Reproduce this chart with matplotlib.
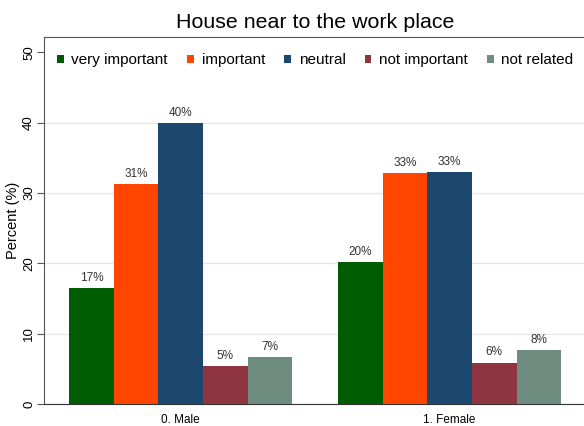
import matplotlib.pyplot as plt
import numpy as np

plt.rcParams['font.family'] = ['Liberation Sans', 'DejaVu Sans']

groups = ['0. Male', '1. Female']
series = ['very important', 'important', 'neutral', 'not important', 'not related']
colors = ['#005c00', '#ff4500', '#1c4870', '#8e3540', '#6e8c80']
values = [
    [16.5, 20.2],   # very important
    [31.3, 32.8],   # important
    [39.9, 33.0],   # neutral
    [5.4, 5.9],     # not important
    [6.7, 7.7],     # not related
]
labels = [
    ['17%', '20%'],
    ['31%', '33%'],
    ['40%', '33%'],
    ['5%', '6%'],
    ['7%', '8%'],
]

fig = plt.figure(figsize=(5.84, 4.26), dpi=100)
ax = fig.add_axes([0.0745, 0.0516, 0.9255, 0.8615])

x = np.arange(len(groups))
w = 0.166
for i, (name, vals) in enumerate(zip(series, values)):
    pos = x + (i - 2) * w
    bars = ax.bar(pos, vals, width=w, color=colors[i], label=name, zorder=3)
    for b, lab in zip(bars, labels[i]):
        ax.text(b.get_x() + b.get_width() / 2, b.get_height() + 0.6, lab,
                ha='center', va='bottom', fontsize=8.5, color='#333333')

ax.set_xlim(-0.51, 1.5)
ax.set_ylim(0, 52.2)
ax.set_yticks([0, 10, 20, 30, 40, 50])
ax.set_yticklabels(['0', '10', '20', '30', '40', '50'], rotation=90, va='center', fontsize=9.5)
ax.set_xticks(x)
ax.set_xticklabels(groups, fontsize=8.5)
ax.tick_params(axis='x', length=0, pad=7)
ax.tick_params(axis='y', length=5, color='#555555', pad=1)
ax.grid(axis='y', color='#e6e6e6', linewidth=1, zorder=0)
# no grid line at 50 (legend sits there)
ax.get_ygridlines()[-1].set_visible(False)
ax.spines['right'].set_visible(False)
for s in ['left', 'top']:
    ax.spines[s].set_color('#555555')
ax.spines['bottom'].set_color('#333333')

ax.set_ylabel('Percent (%)', fontsize=10.5)
ax.yaxis.set_label_coords(-0.044, 0.5)
fig.text(315 / 584, 1 - 23 / 426, 'House near to the work place', fontsize=15.4,
         ha='center', va='center')

ax.legend(loc='upper left', bbox_to_anchor=(0.0, 0.992), ncol=5, frameon=False,
          fontsize=11, handlelength=0.45, handleheight=0.45, columnspacing=1.25,
          handletextpad=0.5, borderaxespad=0.48)

fig.savefig('out.png', dpi=100)
